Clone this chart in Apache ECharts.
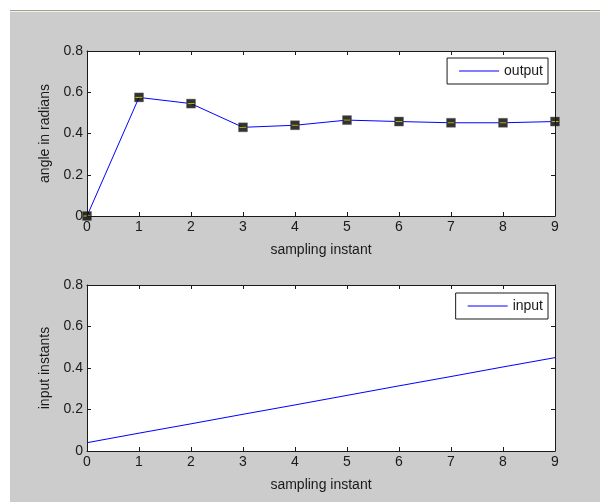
<!DOCTYPE html>
<html><head><meta charset="utf-8">
<script src="https://cdn.jsdelivr.net/npm/echarts@6/dist/echarts.min.js"></script>
<style>
html,body{margin:0;padding:0;background:#fff;}
#frame{position:absolute;left:10px;top:10px;width:590px;height:492px;background:#cccccc;border-top:1px solid #a09f8c;}
#frame:before{content:"";position:absolute;left:0;top:0;width:100%;height:1px;background:#f2f2ea;}
#c{position:absolute;left:-10px;top:-11px;width:600px;height:502px;}
</style></head>
<body><div id="frame"><div id="c"></div></div>
<script>
const samples = [0,1,2,3,4,5,6,7,8,9];
const outputVals = [0, 0.575, 0.545, 0.43, 0.44, 0.465, 0.458, 0.452, 0.452, 0.458];
const inputVals = [0.04, 0.086, 0.131, 0.177, 0.222, 0.268, 0.314, 0.359, 0.405, 0.45];
const yTicks = [0, 0.2, 0.4, 0.6, 0.8];

const chart = echarts.init(document.getElementById('c'));
const font = 'Liberation Sans, Arial, sans-serif';
const lab = {color:'#1a1a1a', fontSize:14, fontFamily:font};
const fmtY = v => (v===0 ? '0' : v.toFixed(1));
const grids = [
  {left:87, right:45, top:51, height:165},
  {left:87, right:45, top:285, height:166}
];
const tick = {show:true, inside:true, length:4, lineStyle:{color:'#1a1a1a', width:1}};
const line = {show:true, onZero:false, lineStyle:{color:'#1a1a1a', width:1}};
function xAxes(i){
  return [
    {type:'value', gridIndex:i, min:0, max:9, interval:1, position:'bottom', z:5,
     axisLine:line, axisTick:tick,
     splitLine:{show:false}, axisLabel:Object.assign({margin:4}, lab),
     name:'sampling instant', nameLocation:'middle', nameGap:27, nameTextStyle:lab},
    {type:'value', gridIndex:i, min:0, max:9, interval:1, position:'top', z:5,
     axisLine:line, axisTick:tick,
     splitLine:{show:false}, axisLabel:{show:false}}
  ];
}
function yAxes(i,name){
  return [
    {type:'value', gridIndex:i, min:0, max:0.8, interval:0.2, position:'left', z:5,
     axisLine:line, axisTick:tick,
     splitLine:{show:false}, axisLabel:Object.assign({margin:4, formatter:fmtY}, lab),
     name:name, nameLocation:'middle', nameGap:33, nameTextStyle:lab},
    {type:'value', gridIndex:i, min:0, max:0.8, interval:0.2, position:'right', z:5,
     axisLine:line, axisTick:tick,
     splitLine:{show:false}, axisLabel:{show:false}}
  ];
}
const pair = (xs, ys) => xs.map((x,i)=>[x, ys[i]]);
chart.setOption({
  animation:false,
  backgroundColor:'transparent',
  grid: grids.map(g=>Object.assign({show:true, backgroundColor:'#fff', borderWidth:0, z:0}, g)),
  xAxis: [...xAxes(0), ...xAxes(1)],
  yAxis: [...yAxes(0,'angle in radians'), ...yAxes(1,'input instants')],
  legend: [
    {data:[{name:'output', icon:'path://M0,0L40,0L40,1.2L0,1.2Z'}], right:52, top:58, orient:'vertical',
     itemWidth:40, itemHeight:2, itemGap:4, padding:[6,5,6,12], borderColor:'#1a1a1a', borderWidth:1, borderRadius:0,
     backgroundColor:'#fff', textStyle:lab},
    {data:[{name:'input', icon:'path://M0,0L40,0L40,1.2L0,1.2Z'}], right:52, top:293, orient:'vertical',
     itemWidth:40, itemHeight:2, itemGap:4, padding:[6,5,6,12], borderColor:'#1a1a1a', borderWidth:1, borderRadius:0,
     backgroundColor:'#fff', textStyle:lab}
  ],
  series: [
    {name:'output', type:'line', xAxisIndex:0, yAxisIndex:0, data:pair(samples,outputVals),
     showSymbol:false, symbol:'none', lineStyle:{color:'#0000ff', width:1}, itemStyle:{color:'#0000ff'}, z:2},
    {name:'outmark', type:'scatter', xAxisIndex:0, yAxisIndex:0, data:pair(samples,outputVals),
     symbol:'rect', symbolSize:9, itemStyle:{color:'#000', borderColor:'#666', borderWidth:0.5}, z:3},
    {name:'outmark2', type:'scatter', xAxisIndex:0, yAxisIndex:0, data:pair(samples,outputVals),
     symbol:'rect', symbolSize:[7,1], itemStyle:{color:'#e8e800'}, z:4},
    {name:'input', type:'line', xAxisIndex:2, yAxisIndex:2, data:pair(samples,inputVals),
     showSymbol:false, symbol:'none', lineStyle:{color:'#0000ff', width:1}, itemStyle:{color:'#0000ff'}}
  ]
});
</script></body></html>
